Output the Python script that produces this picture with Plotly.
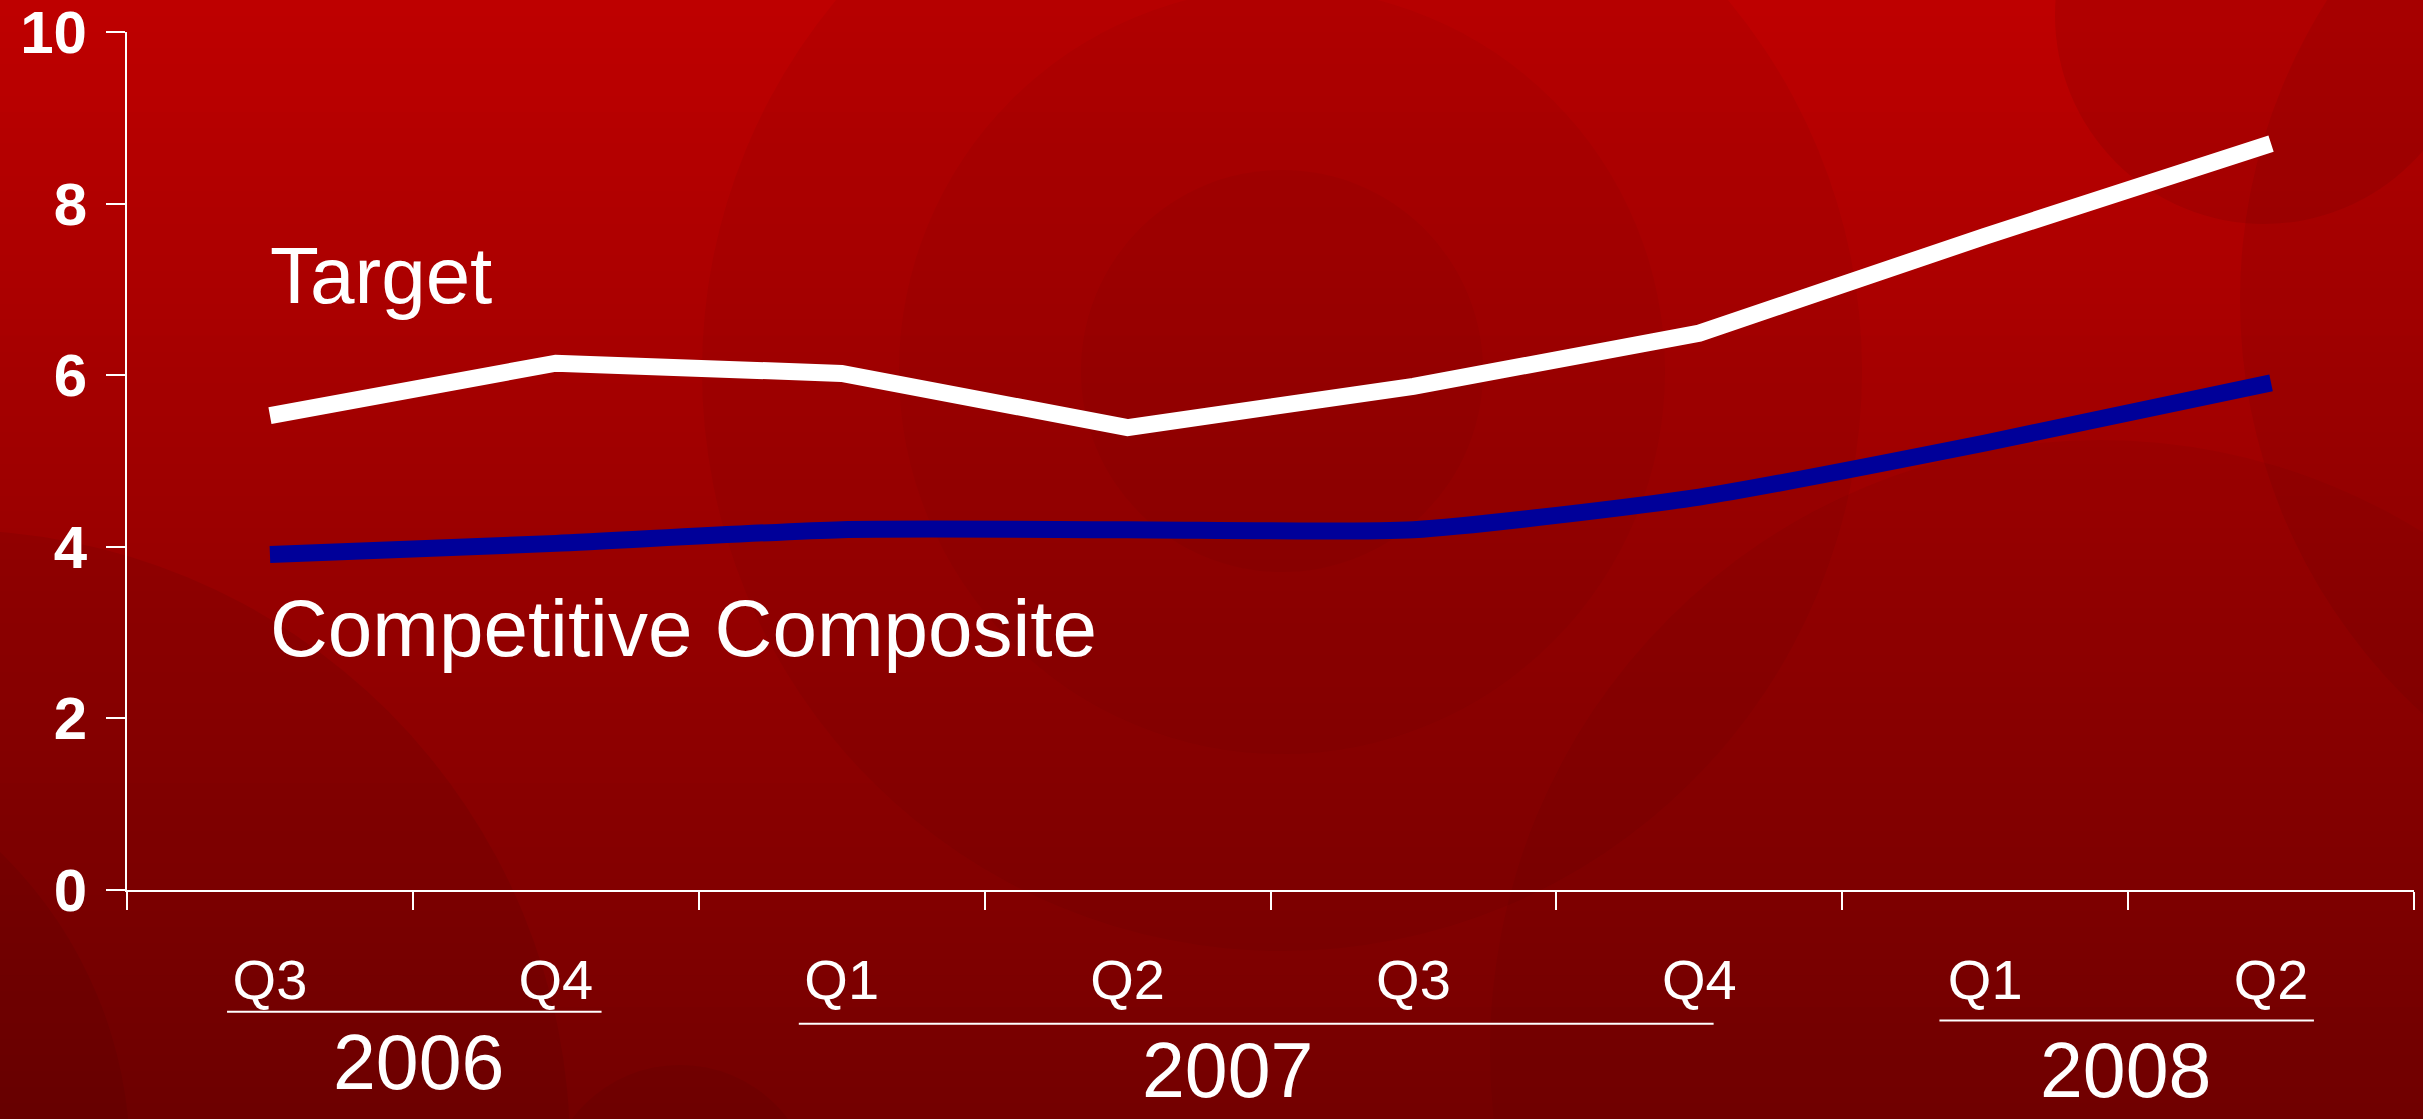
import plotly.graph_objects as go

# ---- data ----
quarters = ["Q3", "Q4", "Q1", "Q2", "Q3", "Q4", "Q1", "Q2"]
target = [5.53, 6.14, 6.02, 5.39, 5.87, 6.49, 7.62, 8.70]
competitive = [3.91, 4.04, 4.20, 4.20, 4.20, 4.58, 5.21, 5.91]
years = ["2006", "2007", "2008"]
year_centers = [0.52, 3.35, 6.49]
year_spans = [(-0.15, 1.16), (1.85, 5.05), (5.84, 7.15)]
y_ticks = [0, 2, 4, 6, 8, 10]

W, H = 2423, 1119
FONT = "Liberation Sans, Arial, sans-serif"

x_idx = list(range(len(quarters)))

fig = go.Figure()
fig.add_trace(go.Scatter(x=x_idx, y=target, mode="lines",
                         line=dict(color="white", width=17, shape="linear"),
                         name="Target", showlegend=False, hoverinfo="skip"))
fig.add_trace(go.Scatter(x=x_idx, y=competitive, mode="lines",
                         line=dict(color="#000099", width=17, shape="spline", smoothing=0.6),
                         name="Competitive Composite", showlegend=False, hoverinfo="skip"))

shapes = []
# background gradient bands (paper coords)
L, R, T, B = 127, 9, 32, 229
pw, ph = W - L - R, H - T - B

def px2paper(x, y):
    return (x - L) / pw, (H - B - y) / ph

n = 70
top = (190, 0, 0)
bot = (116, 0, 0)
for i in range(n):
    t = i / (n - 1)
    r = round(top[0] + (bot[0] - top[0]) * t)
    _, y1 = px2paper(0, H * i / n)
    _, y0 = px2paper(0, H * (i + 1) / n + 1)
    shapes.append(dict(type="rect", xref="paper", yref="paper", layer="below",
                       x0=-0.1, x1=1.1, y0=y0, y1=y1,
                       fillcolor=f"rgb({r},0,0)", line=dict(width=0)))

def circle(cx, cy, rad, alpha):
    x0, y0 = px2paper(cx - rad, cy + rad)
    x1, y1 = px2paper(cx + rad, cy - rad)
    shapes.append(dict(type="circle", xref="paper", yref="paper", layer="below",
                       x0=x0, x1=x1, y0=y0, y1=y1,
                       fillcolor=f"rgba(40,0,0,{alpha})", line=dict(width=0)))

circle(1282, 371, 580, 0.05)
circle(1282, 371, 383, 0.045)
circle(1282, 371, 201, 0.045)
circle(2264, 15, 209, 0.09)
circle(2800, 300, 560, 0.07)
circle(2100, 1050, 610, 0.05)
circle(-50, 1150, 620, 0.09)
circle(-300, 1160, 430, 0.08)
circle(680, 1200, 135, 0.07)
circle(-330, -330, 440, 0.08)

# year underlines
underline_y = [-0.142, -0.156, -0.152]
for (a, b), uy in zip(year_spans, underline_y):
    shapes.append(dict(type="line", xref="x", yref="paper", x0=a, x1=b,
                       y0=uy, y1=uy, line=dict(color="white", width=2)))

annotations = []
year_y = [-0.200, -0.210, -0.210]
for yr, xc, yy in zip(years, year_centers, year_y):
    annotations.append(dict(x=xc, y=yy, xref="x", yref="paper", text=yr,
                            showarrow=False, xanchor="center", yanchor="middle",
                            font=dict(family=FONT, size=77, color="white")))
# series labels
annotations.append(dict(x=0, y=7.16, xref="x", yref="y", text="Target",
                        showarrow=False, xanchor="left", yanchor="middle",
                        xshift=-2,
                        font=dict(family=FONT, size=80, color="white")))
annotations.append(dict(x=0, y=3.05, xref="x", yref="y", text="Competitive Composite",
                        showarrow=False, xanchor="left", yanchor="middle",
                        xshift=-2,
                        font=dict(family=FONT, size=80, color="white")))

fig.update_layout(
    width=W, height=H,
    margin=dict(l=L, r=R, t=T, b=B, pad=0),
    paper_bgcolor="rgb(150,0,0)",
    plot_bgcolor="rgba(0,0,0,0)",
    shapes=shapes,
    annotations=annotations,
    showlegend=False,
    xaxis=dict(range=[-0.5, 7.5], tickmode="array", tickvals=x_idx, ticktext=quarters,
               ticks="", showgrid=False, zeroline=False, automargin=False,
               showline=True, linecolor="white", linewidth=2,
               ticklabelstandoff=40, ticklabeloverflow="allow",
               tickfont=dict(family=FONT, size=56, color="white"),
               minor=dict(tickmode="array", tickvals=[i - 0.5 for i in range(len(quarters) + 1)],
                          ticks="outside", ticklen=18, tickwidth=2, tickcolor="white",
                          showgrid=False)),
    yaxis=dict(range=[0, 10], tickmode="array", tickvals=y_ticks,
               ticks="outside", ticklen=19, tickwidth=2, tickcolor="white",
               showgrid=False, zeroline=False, automargin=False,
               showline=True, linecolor="white", linewidth=2,
               ticklabelstandoff=7, ticklabeloverflow="allow",
               tickfont=dict(family=FONT, size=60, color="white", weight="bold")),
)

fig.write_html("out.html")
